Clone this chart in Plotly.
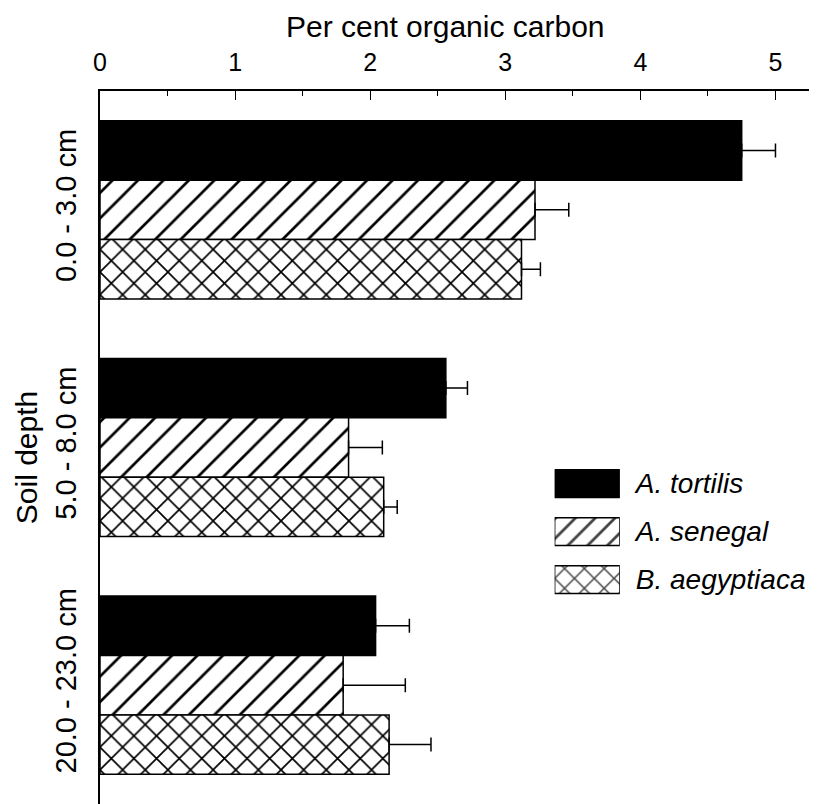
import plotly.graph_objects as go

DEPTHS = ["0.0 - 3.0 cm", "5.0 - 8.0 cm", "20.0 - 23.0 cm"]
SPECIES = ["A. tortilis", "A. senegal", "B. aegyptiaca"]

# per cent organic carbon (mean) and upper error, per species over depths
TORTILIS = [4.75, 2.56, 2.04]
TORTILIS_ERR = [0.25, 0.16, 0.25]
SENEGAL = [3.22, 1.84, 1.80]
SENEGAL_ERR = [0.25, 0.25, 0.46]
AEGYPTIACA = [3.12, 2.10, 2.14]
AEGYPTIACA_ERR = [0.14, 0.10, 0.31]

FONT = "Liberation Sans, Arial, sans-serif"
COLORS = ["black", "white", "white"]
PATTERNS = ["", "/", "x"]
PATTERN_SIZE = [10, 18, 16]
SOLIDITY = [0.2, 0.15, 0.2]

fig = go.Figure()

for name, vals, errs, color, shape, psize, sol in zip(
    SPECIES,
    [TORTILIS, SENEGAL, AEGYPTIACA],
    [TORTILIS_ERR, SENEGAL_ERR, AEGYPTIACA_ERR],
    COLORS, PATTERNS, PATTERN_SIZE, SOLIDITY,
):
    fig.add_trace(go.Bar(
        name=name, y=DEPTHS, x=vals, orientation="h",
        marker=dict(color=color, line=dict(color="black", width=1.5),
                    pattern=dict(shape=shape, fgcolor="black", bgcolor=color, fgopacity=1,
                                 size=psize, solidity=sol, fillmode="overlay")),
        error_x=dict(type="data", array=errs, arrayminus=[0] * len(errs), symmetric=False,
                     color="black", thickness=1.5, width=7),
        showlegend=False,
    ))

# legend drawn as a small bar chart on its own axes, so the swatches can be large
fig.add_trace(go.Bar(
    y=[f"<i>{s}</i>" for s in SPECIES], x=[1] * len(SPECIES), orientation="h",
    xaxis="x2", yaxis="y2", width=0.58,
    marker=dict(color=COLORS, line=dict(color="black", width=1.5),
                pattern=dict(shape=PATTERNS, fgcolor="black", bgcolor=COLORS, fgopacity=1,
                             size=14, solidity=0.2, fillmode="overlay")),
    showlegend=False, hoverinfo="skip",
))

# the page body adds an 8 px offset, so margins are trimmed by that much
fig.update_layout(
    width=817, height=804,
    margin=dict(l=92, r=9, t=83, b=8, autoexpand=False),
    plot_bgcolor="white", paper_bgcolor="white",
    font=dict(family=FONT, size=25, color="black"),
    barmode="group", bargap=0.25, bargroupgap=0,
    showlegend=False,
    xaxis=dict(
        side="top", range=[0, 5.3], tickvals=[0, 1, 2, 3, 4, 5], automargin=False,
        showline=True, linecolor="black", linewidth=2,
        ticks="inside", ticklen=9, tickwidth=1.2, tickcolor="black",
        minor=dict(dtick=0.5, ticks="inside", ticklen=5, tickwidth=1, tickcolor="black"),
        showgrid=False, zeroline=False, ticklabelstandoff=8, tickfont=dict(size=25),
    ),
    yaxis=dict(
        range=[2.5, -0.5], showline=True, linecolor="black", linewidth=2, automargin=False,
        ticks="", tickangle=-90, showgrid=False, zeroline=False,
        tickfont=dict(size=29), ticklabelstandoff=10,
    ),
    xaxis2=dict(domain=[0.635, 0.726], range=[0, 1], anchor="y2", visible=False),
    yaxis2=dict(domain=[0.281, 0.483], anchor="x2", side="right", range=[2.5, -0.5],
                showline=False, showgrid=False, zeroline=False, ticks="", automargin=False,
                ticklabelstandoff=15, tickfont=dict(size=28)),
    annotations=[
        dict(text="Per cent organic carbon", xref="paper", yref="paper", x=0.483, y=1,
             xanchor="center", yanchor="middle", yshift=65, showarrow=False,
             font=dict(size=30)),
        dict(text="Soil depth", xref="paper", yref="paper", x=0, y=0.485,
             xanchor="center", yanchor="middle", xshift=-74, textangle=-90,
             showarrow=False, font=dict(size=30)),
    ],
)

fig.write_html("out.html")
